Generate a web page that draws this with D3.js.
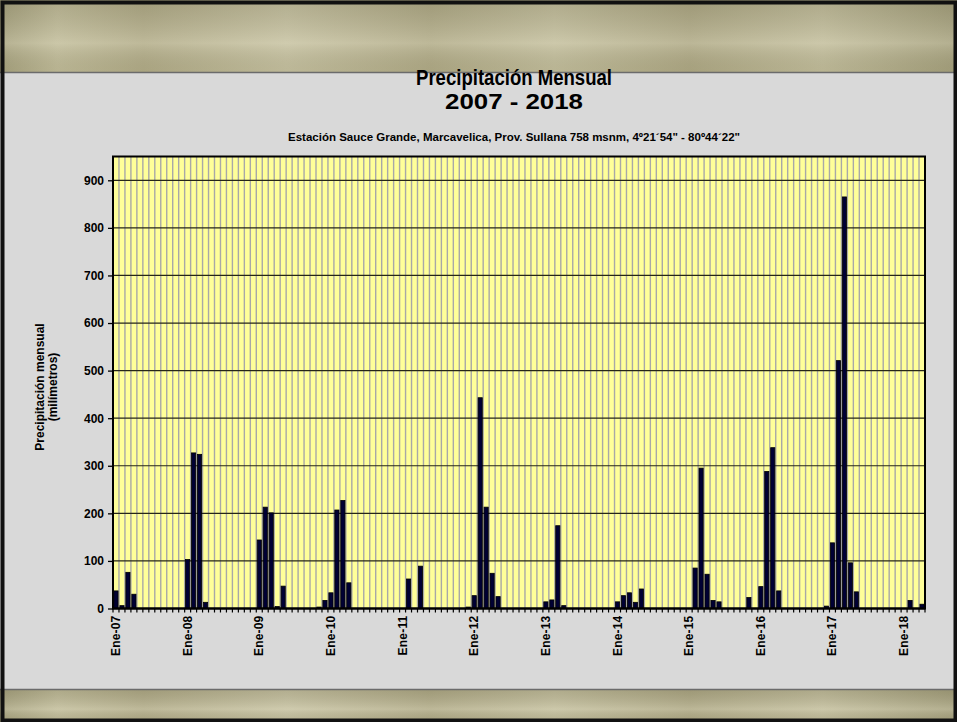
<!DOCTYPE html>
<html><head><meta charset="utf-8">
<script src="https://cdn.jsdelivr.net/npm/d3@7/dist/d3.min.js"></script>
<style>body{margin:0;background:#d9d9d9;overflow:hidden}svg{display:block}</style>
</head><body>
<svg id="c" width="957" height="722"></svg>
<script>
// ---- data ----
const monthAbbr = ["Ene","Feb","Mar","Abr","May","Jun","Jul","Ago","Set","Oct","Nov","Dic"];
const years = [2007,2008,2009,2010,2011,2012,2013,2014,2015,2016,2017,2018];
const p2007 = [37, 6, 76, 30, 0, 0, 0, 0, 0, 0, 0, 0];
const p2008 = [103, 327, 324, 13, 0, 0, 0, 0, 0, 0, 0, 0];
const p2009 = [144, 213, 201, 4, 47, 0, 0, 0, 0, 0, 3, 17];
const p2010 = [33, 207, 227, 54, 0, 0, 0, 0, 0, 0, 0, 0];
const p2011 = [0, 62, 0, 89, 0, 0, 0, 0, 0, 0, 0, 3];
const p2012 = [27, 443, 213, 74, 25, 0, 0, 0, 0, 0, 0, 0];
const p2013 = [14, 18, 174, 6, 0, 0, 0, 0, 0, 0, 0, 0];
const p2014 = [14, 27, 33, 13, 41, 0, 0, 0, 0, 0, 0, 0];
const p2015 = [0, 85, 295, 72, 17, 14, 0, 0, 0, 0, 23, 0];
const p2016 = [46, 288, 338, 37, 0, 0, 0, 0, 0, 0, 0, 5];
const p2017 = [138, 521, 865, 96, 35, 0, 0, 0, 0, 0, 0, 0];
const p2018 = [0, 17, 0, 9];
const yearValues = [p2007,p2008,p2009,p2010,p2011,p2012,p2013,p2014,p2015,p2016,p2017,p2018];
const yTicks = [0,100,200,300,400,500,600,700,800,900];
const yMax = 950;
const titleLines = ["Precipitación Mensual", "2007 - 2018"];
const subtitle = "Estación Sauce Grande, Marcavelica, Prov. Sullana 758 msnm, 4º21´54\" - 80º44´22\"";
const yTitle = ["Precipitación mensual", "(milímetros)"];

// build table
const data = [];
years.forEach((yr, i) => {
  yearValues[i].forEach((v, m) => {
    data.push({cat: monthAbbr[m] + "-" + String(yr).slice(2), month: m, value: v});
  });
});

const svg = d3.select("#c");
const W = 957, H = 722;
const font = "'Liberation Sans', Arial, sans-serif";

// ---- background / frame ----
const defs = svg.append("defs");
const g1 = defs.append("linearGradient").attr("id","band").attr("x1","0").attr("x2","1").attr("y1","0").attr("y2","0");
[["0","#a9a47f"],["0.06","#c2bd99"],["0.15","#b3ad88"],["0.3","#c7c2a0"],["0.45","#b2ac87"],["0.58","#c4bf9c"],["0.72","#b0aa85"],["0.86","#c3be9b"],["1","#a7a27d"]]
  .forEach(s => g1.append("stop").attr("offset", s[0]).attr("stop-color", s[1]));
const g2 = defs.append("linearGradient").attr("id","bandV").attr("x1","0").attr("x2","0").attr("y1","0").attr("y2","1");
g2.append("stop").attr("offset","0").attr("stop-color","#000").attr("stop-opacity",0.1);
g2.append("stop").attr("offset","0.6").attr("stop-color","#fff").attr("stop-opacity",0.15);
g2.append("stop").attr("offset","1").attr("stop-color","#000").attr("stop-opacity",0.05);

svg.append("rect").attr("x",0).attr("y",0).attr("width",W).attr("height",H).attr("fill","#d9d9d9");
svg.append("rect").attr("x",0).attr("y",0).attr("width",W).attr("height",72).attr("fill","url(#band)");
svg.append("rect").attr("x",0).attr("y",0).attr("width",W).attr("height",72).attr("fill","url(#bandV)");
svg.append("rect").attr("x",0).attr("y",690).attr("width",W).attr("height",32).attr("fill","url(#band)");
svg.append("rect").attr("x",0).attr("y",690).attr("width",W).attr("height",32).attr("fill","url(#bandV)");
svg.append("line").attr("x1",0).attr("x2",W).attr("y1",72.5).attr("y2",72.5).attr("stroke","#6b6b6b").attr("stroke-width",1.5);
svg.append("line").attr("x1",0).attr("x2",W).attr("y1",689.5).attr("y2",689.5).attr("stroke","#6b6b6b").attr("stroke-width",1.5);
svg.append("rect").attr("x",2.5).attr("y",2.5).attr("width",W-4).attr("height",H-4)
  .attr("fill","none").attr("stroke","#111").attr("stroke-width",4);

// ---- scales ----
const plot = {left: 113, right: 925, top: 156.5, bottom: 608.5};
const x = d3.scaleBand().domain(data.map(d => d.cat)).range([plot.left, plot.right]).padding(0);
const y = d3.scaleLinear().domain([0, yMax]).range([plot.bottom, plot.top]);

// plot area
svg.append("rect").attr("x",plot.left).attr("y",plot.top).attr("width",plot.right-plot.left)
  .attr("height",plot.bottom-plot.top).attr("fill","#ffff99");

// vertical gridlines at category boundaries
const bounds = data.map(d => x(d.cat)).concat([plot.right]);
svg.append("g").selectAll("line").data(bounds.slice(1, -1)).join("line")
  .attr("x1", d => d).attr("x2", d => d).attr("y1", plot.top).attr("y2", plot.bottom)
  .attr("stroke","#a8a8a8").attr("stroke-width",1.4);

// horizontal gridlines
svg.append("g").selectAll("line").data(yTicks.filter(t => t > 0)).join("line")
  .attr("x1", plot.left).attr("x2", plot.right).attr("y1", d => y(d)).attr("y2", d => y(d))
  .attr("stroke","#262618").attr("stroke-width",1.2);

// bars
const bw = x.bandwidth() * 0.7;
svg.append("g").selectAll("rect").data(data.filter(d => d.value > 0)).join("rect")
  .attr("x", d => x(d.cat) + (x.bandwidth() - bw) / 2)
  .attr("width", bw)
  .attr("y", d => y(d.value))
  .attr("height", d => y(0) - y(d.value))
  .attr("fill","#000033").attr("stroke","#000").attr("stroke-width",0.8);

// plot border
svg.append("rect").attr("x",plot.left).attr("y",plot.top).attr("width",plot.right-plot.left)
  .attr("height",plot.bottom-plot.top).attr("fill","none").attr("stroke","#000").attr("stroke-width",2);

// y axis
const yAxis = svg.append("g").attr("transform",`translate(${plot.left},0)`)
  .call(d3.axisLeft(y).tickValues(yTicks).tickSize(5).tickPadding(4));
yAxis.select(".domain").remove();
yAxis.selectAll(".tick line").attr("stroke","#000").attr("stroke-width",1.3);
yAxis.selectAll("text").attr("font-family",font).attr("font-weight","bold").attr("font-size",12).attr("fill","#000");

// x axis: ticks at category boundaries, labels at January centers
svg.append("g").selectAll("line").data(bounds).join("line")
  .attr("x1", d => d).attr("x2", d => d).attr("y1", plot.bottom).attr("y2", plot.bottom + 4)
  .attr("stroke","#000").attr("stroke-width",1.2);
svg.append("line").attr("x1",plot.left).attr("x2",plot.right).attr("y1",plot.bottom).attr("y2",plot.bottom)
  .attr("stroke","#000").attr("stroke-width",2);
svg.append("g").selectAll("text").data(data.filter(d => d.month === 0)).join("text")
  .attr("transform", d => `translate(${x(d.cat) + x.bandwidth()/2 + 4},${plot.bottom + 7}) rotate(-90)`)
  .attr("text-anchor","end")
  .attr("font-family",font).attr("font-weight","bold").attr("font-size",12).attr("letter-spacing",0.2)
  .text(d => d.cat);

// titles
const cx = 514;
svg.append("text").attr("x",cx).attr("y",85).attr("text-anchor","middle")
  .attr("font-family",font).attr("font-weight","bold").attr("font-size",22)
  .attr("textLength",196).attr("lengthAdjust","spacingAndGlyphs").text(titleLines[0]);
svg.append("text").attr("x",cx).attr("y",109).attr("text-anchor","middle")
  .attr("font-family",font).attr("font-weight","bold").attr("font-size",22)
  .attr("textLength",138).attr("lengthAdjust","spacingAndGlyphs").text(titleLines[1]);
svg.append("text").attr("x",cx).attr("y",141).attr("text-anchor","middle")
  .attr("font-family",font).attr("font-weight","bold").attr("font-size",11)
  .attr("textLength",452).attr("lengthAdjust","spacingAndGlyphs").text(subtitle);

// y axis title
svg.append("text").attr("transform","translate(44,387) rotate(-90)").attr("text-anchor","middle")
  .attr("font-family",font).attr("font-weight","bold").attr("font-size",12).text(yTitle[0]);
svg.append("text").attr("transform","translate(57,387) rotate(-90)").attr("text-anchor","middle")
  .attr("font-family",font).attr("font-weight","bold").attr("font-size",12).text(yTitle[1]);
</script>
</body></html>
